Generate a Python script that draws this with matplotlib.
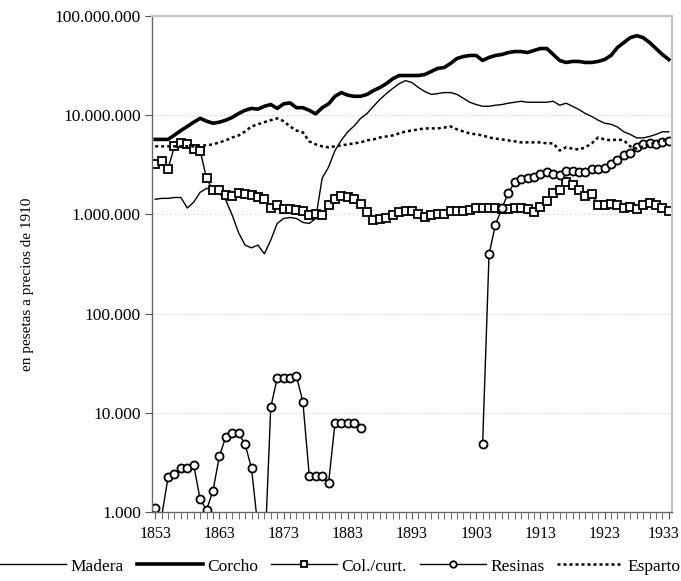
import matplotlib
matplotlib.use("Agg")
import matplotlib.pyplot as plt
from matplotlib import ticker
import matplotlib.transforms as mtransforms
import numpy as np

# valores en miles de pesetas (precios de 1910), 1853-1933
years = list(range(1853, 1934))
nan = float("nan")

madera = [1420, 1450, 1450, 1480, 1480, 1160, 1330, 1670, 1830, 1750,
          1630, 1390, 980, 650, 490, 460, 490, 400, 550, 810,
          910, 930, 910, 830, 810, 910, 2310, 3000, 4400, 5600,
          6800, 7800, 9300, 10400, 12300, 14400, 16500, 18600, 20800, 22300,
          21300, 19000, 17300, 16200, 16500, 16900, 16900, 16200, 14800, 13500,
          12800, 12300, 12300, 12600, 12800, 13200, 13500, 13800, 13500, 13500,
          13500, 13500, 13800, 12600, 13200, 12300, 11400, 10400, 9700, 8900,
          8300, 8100, 7600, 6800, 6400, 5900, 5900, 6100, 6400, 6800,
          6800]

corcho = [5700, 5700, 5700, 6300, 7000, 7700, 8500, 9300, 8700, 8300,
          8500, 8900, 9500, 10400, 11200, 11700, 11500, 12300, 12800, 11700,
          13000, 13300, 11900, 11900, 11200, 10300, 11900, 13000, 15500, 16900,
          15900, 15500, 15500, 16200, 17700, 19000, 20800, 23300, 25100, 25100,
          25100, 25100, 25700, 27600, 29600, 30200, 33200, 37300, 39000, 40000,
          40000, 35600, 38200, 40000, 40900, 42800, 43800, 43800, 42800, 44900,
          47000, 47000, 40900, 35600, 34000, 34800, 34800, 34000, 34000, 34800,
          36400, 40000, 48100, 54000, 60500, 63300, 60500, 54000, 47000, 40900,
          36400]

colcurt = [3200, 3450, 2900, 4850, 5200, 5080, 4600, 4400, 2300, 1750,
           1750, 1560, 1520, 1630, 1600, 1560, 1490, 1420, 1160, 1240,
           1130, 1130, 1100, 1080, 980, 1000, 980, 1240, 1420, 1520,
           1490, 1420, 1270, 1050, 870, 890, 910, 980, 1050, 1070,
           1070, 1020, 950, 980, 1020, 1000, 1070, 1070, 1090, 1110,
           1160, 1160, 1160, 1160, 1140, 1140, 1160, 1160, 1140, 1050,
           1200, 1380, 1630, 1750, 2100, 2000, 1750, 1520, 1600, 1240,
           1240, 1270, 1240, 1160, 1190, 1140, 1240, 1300, 1240, 1160,
           1090]

resinas = [1.09, 0.9, 2.23, 2.4, 2.75, 2.75, 2.97, 1.34, 1.05, 1.64,
           3.66, 5.73, 6.2, 6.2, 4.84, 2.75, 0.7, 0.3, 11.4, 22.3,
           22.3, 22.3, 23.4, 12.9, 2.3, 2.3, 2.3, 1.95, 7.8, 7.8,
           7.8, 7.8, 7.0, nan, nan, nan, nan, nan, nan, nan,
           nan, nan, nan, nan, nan, nan, nan, nan, nan, nan,
           nan, 4.84, 396, 789, 1150, 1650, 2100, 2290, 2350, 2380,
           2570, 2670, 2570, 2480, 2730, 2730, 2670, 2670, 2850, 2850,
           2960, 3250, 3560, 3940, 4190, 4770, 5080, 5240, 5080, 5360,
           5450]

esparto = [4850, 4850, 4850, 4850, 4850, 4850, 4850, 4960, 4960, 5080,
           5320, 5570, 5960, 6250, 6850, 7700, 8100, 8500, 8900, 9300,
           8700, 7700, 7000, 6700, 5450, 5080, 4850, 4740, 4850, 4960,
           5080, 5200, 5320, 5570, 5700, 5960, 6100, 6250, 6550, 6850,
           7000, 7200, 7350, 7350, 7350, 7500, 7700, 7200, 6850, 6550,
           6400, 6250, 5960, 5800, 5700, 5570, 5450, 5320, 5320, 5320,
           5320, 5200, 5200, 4400, 4740, 4600, 4500, 4740, 5200, 5960,
           5700, 5570, 5700, 5570, 4850, 4600, 4850, 5080, 5320, 5570,
           5570]

xticks = list(range(1853, 1934, 10))
yticks = [1e3, 1e4, 1e5, 1e6, 1e7, 1e8]

plt.rcParams["font.family"] = ["Liberation Serif", "DejaVu Serif"]

fig = plt.figure(figsize=(6.81, 5.81), dpi=100)
ax = fig.add_axes([0.2232, 0.1188, 0.7636, 0.8537])

k = 1000
ax.plot(years, np.array(madera) * k, color="black", lw=1.0, label="Madera")
ax.plot(years, np.array(corcho) * k, color="black", lw=2.6, label="Corcho")
ax.plot(years, np.array(colcurt) * k, color="black", lw=1.0, marker="s", ms=5.6,
        mfc="white", mec="black", mew=1.3, label="Col./curt.")
ax.plot(years, np.array(resinas) * k, color="black", lw=1.0, marker="o", ms=5.8,
        mfc="white", mec="black", mew=1.3, label="Resinas")
ax.plot(years, np.array(esparto) * k, color="black", lw=1.8, ls=(0, (1.2, 1.2)),
        label="Esparto")

ax.set_yscale("log")
ax.set_ylim(1e3, 1e8)
ax.set_xlim(1852.5, 1933.5)

ax.set_yticks(yticks)
ax.yaxis.set_minor_locator(ticker.NullLocator())
ax.yaxis.set_major_formatter(ticker.FuncFormatter(lambda v, p: f"{int(round(v)):,}".replace(",", ".")))
ax.set_xticks(xticks)
ax.set_xticks(years, minor=True)
ax.tick_params(axis="both", which="both", direction="out", colors="#555555",
               labelcolor="black")
ax.tick_params(axis="x", which="both", length=5, pad=5, labelsize=11.5)
ax.tick_params(axis="y", which="major", length=5, pad=3, labelsize=12.5)

# keep the last year label inside the figure
last = ax.get_xticklabels()[-1]
last.set_transform(last.get_transform() + mtransforms.ScaledTranslation(-4 / 72, 0, fig.dpi_scale_trans))

ax.grid(axis="y", which="major", color="#dcdcdc", lw=0.8, ls=(0, (2, 2)))
ax.set_axisbelow(True)

for s in ["left", "bottom"]:
    ax.spines[s].set_color("#666666")
    ax.spines[s].set_linewidth(1.0)
for s in ["top", "right"]:
    ax.spines[s].set_color("#c4c4c4")
    ax.spines[s].set_linewidth(1.6)

fig.text(0.04, 0.51, "en pesetas a precios de 1910", rotation=90,
         ha="center", va="center", fontsize=11)

fig.legend(loc="center", bbox_to_anchor=(0.5, 0.025), ncol=5, frameon=False,
           fontsize=12.5, handlelength=3.8, handletextpad=0.25,
           columnspacing=0.75, borderaxespad=0, markerscale=0.8, numpoints=1)

fig.savefig("out.png", dpi=100)
